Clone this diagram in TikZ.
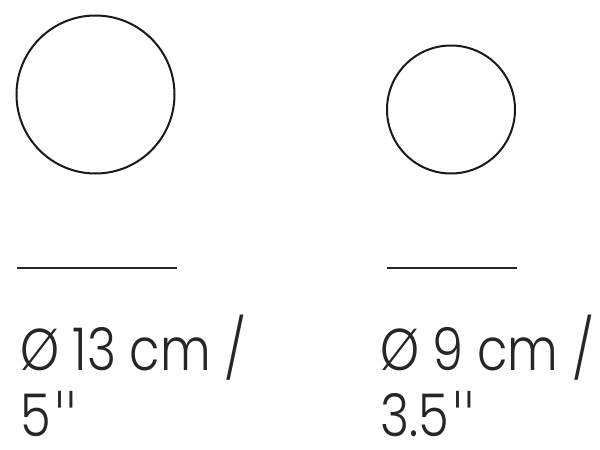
\documentclass[tikz,border=0pt]{standalone}
\usepackage{fontspec}
\IfFontExistsTF{Poppins Light}{\setmainfont[FakeStretch=0.84]{Poppins Light}}{\setmainfont[FakeStretch=0.84]{Poppins}}
\IfFontExistsTF{DejaVu Sans ExtraLight}{\newfontfamily\quotefont{DejaVu Sans ExtraLight}}{\newfontfamily\quotefont{Liberation Sans}}
\newcommand{\inch}{{\quotefont\fontsize{62}{64}\selectfont\kern1pt"}}
\begin{document}
\begin{tikzpicture}[x=1pt,y=-1pt,
  ring/.style={draw=black!90,line width=2pt},
  rule/.style={draw=black!85,line width=2.6pt},
  label/.style={anchor=base west,inner sep=0pt,text depth=0pt,font=\fontsize{59}{64}\selectfont,text=black!85}]
\useasboundingbox (0,0) rectangle (600,450);
\draw[ring] (95.5,94.5) circle[radius=79];
\draw[ring] (451,109.5) circle[radius=64];
\coordinate (l1a) at (17,268); \coordinate (l1b) at (177,268);
\coordinate (l2a) at (387,268); \coordinate (l2b) at (517,268);
\draw[rule] (l1a) -- (l1b);
\draw[rule] (l2a) -- (l2b);
\node[label] (t1) at (20,370) {Ø 13 cm /};
\node[label] (t2) at (20,436) {5\inch};
\node[label] (t3) at (380,370) {Ø 9 cm /};
\node[label] (t4) at (380,436) {3.5\inch};
\end{tikzpicture}
\end{document}
